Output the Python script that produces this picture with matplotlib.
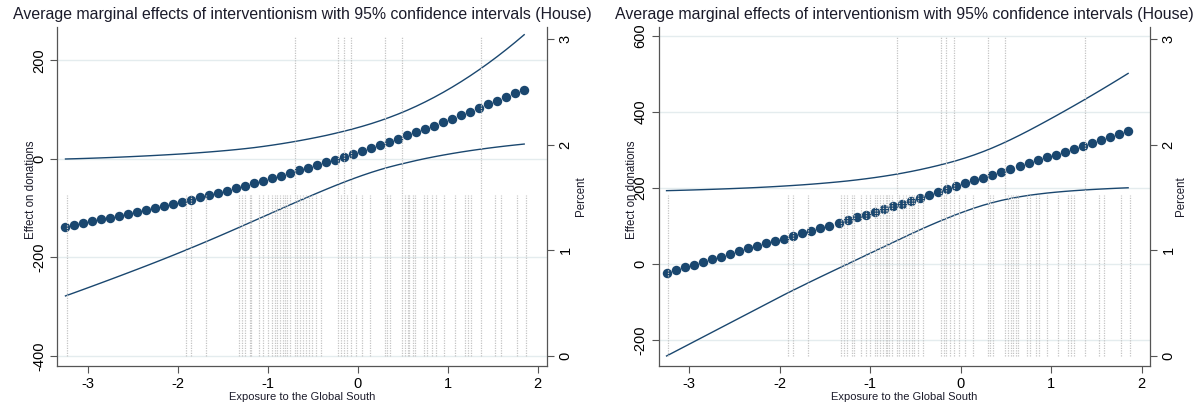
import matplotlib
matplotlib.use("Agg")
import matplotlib.pyplot as plt

plt.rcParams['font.family'] = ['Liberation Sans', 'DejaVu Sans']
plt.rcParams['axes.unicode_minus'] = False

# ---------------- data ----------------
x_at = [-3.25, -3.15, -3.05, -2.95, -2.85, -2.75, -2.65, -2.55, -2.45, -2.35,
        -2.25, -2.15, -2.05, -1.95, -1.85, -1.75, -1.65, -1.55, -1.45, -1.35,
        -1.25, -1.15, -1.05, -0.95, -0.85, -0.75, -0.65, -0.55, -0.45, -0.35,
        -0.25, -0.15, -0.05, 0.05, 0.15, 0.25, 0.35, 0.45, 0.55, 0.65,
        0.75, 0.85, 0.95, 1.05, 1.15, 1.25, 1.35, 1.45, 1.55, 1.65, 1.75, 1.85]

left_est = [-137.4, -133.8, -130.0, -126.4, -122.7, -118.8, -115.0, -111.2, -107.3, -103.4,
            -99.5, -95.2, -91.0, -86.8, -82.4, -78.0, -73.5, -68.9, -64.2, -59.4,
            -54.5, -49.5, -44.3, -39.0, -33.7, -28.3, -23.0, -17.6, -12.2, -6.7,
            -1.2, 4.4, 10.2, 16.2, 22.3, 28.5, 34.8, 41.3, 47.8, 54.5,
            61.2, 68.0, 75.0, 82.0, 89.1, 96.3, 103.5, 110.8, 118.2, 125.6, 133.0, 140.5]
left_hi = [0.0, 0.5, 1.05, 1.65, 2.3, 3.0, 3.75, 4.55, 5.4, 6.3,
           7.25, 8.25, 9.3, 10.4, 11.6, 12.9, 14.3, 15.8, 17.4, 19.15,
           21.05, 23.15, 25.55, 28.15, 30.95, 33.95, 37.15, 40.55, 44.15, 47.95,
           52.15, 56.55, 61.25, 66.35, 71.85, 77.85, 84.35, 91.35, 98.95, 107.15,
           115.95, 125.35, 135.35, 145.95, 157.15, 168.95, 181.35, 194.35, 207.95, 222.15,
           236.95, 252.35]
left_lo = [-278.0, -271.4, -264.75, -258.05, -251.3, -244.5, -237.65, -230.75, -223.8, -216.8,
           -209.7, -202.5, -195.2, -187.8, -180.3, -172.7, -165.0, -157.2, -149.3, -141.3,
           -133.25, -125.15, -117.05, -108.95, -100.85, -92.8, -84.8, -76.9, -69.1, -61.45,
           -54.0, -46.8, -39.9, -33.35, -27.2, -21.5, -16.3, -11.6, -7.35, -3.05,
           0.9, 4.55, 7.95, 11.15, 14.15, 16.95, 19.55, 22.0, 24.3, 26.45, 28.45, 30.35]

right_est = [-22.8, -16.0, -9.0, -2.0, 5.0, 12.3, 19.6, 27.0, 34.4, 41.8,
             48.0, 54.0, 60.5, 66.8, 73.7, 80.7, 87.7, 94.7, 101.2, 108.3,
             115.5, 122.5, 129.3, 136.3, 143.9, 151.5, 159.0, 166.8, 174.4, 181.6,
             189.0, 197.2, 204.8, 212.3, 219.8, 227.5, 235.3, 243.0, 250.9, 258.3,
             266.0, 273.2, 280.7, 288.0, 295.6, 303.0, 311.0, 318.6, 326.2, 334.0, 342.0, 350.5]
right_hi = [193.0, 193.6, 194.25, 194.95, 195.7, 196.5, 197.35, 198.25, 199.2, 200.2,
            201.3, 202.5, 203.8, 205.2, 206.7, 208.3, 210.05, 211.95, 214.0, 216.2,
            218.6, 221.3, 224.25, 227.45, 230.95, 234.75, 238.9, 243.4, 248.3, 253.6,
            259.25, 265.25, 271.85, 279.15, 287.15, 295.95, 305.55, 315.95, 327.05, 338.75,
            350.95, 363.55, 376.45, 389.55, 402.85, 416.35, 430.05, 443.95, 458.05, 472.35,
            486.85, 501.55]
right_lo = [-242.0, -229.6, -217.2, -204.8, -192.4, -180.0, -167.6, -155.2, -142.8, -130.4,
            -118.0, -105.6, -93.2, -80.8, -68.9, -57.2, -45.5, -34.0, -22.6, -11.3,
            0.0, 11.3, 22.6, 33.9, 45.2, 56.5, 67.8, 79.0, 90.0, 100.6,
            110.8, 120.6, 130.0, 138.9, 147.2, 154.8, 161.5, 167.4, 172.5, 176.9,
            180.6, 183.8, 186.6, 189.0, 191.1, 192.9, 194.5, 196.0, 197.3, 198.5, 199.6, 200.6]

# histogram of the moderator (percent of observations)
hist_x = [-3.234, -1.906, -1.851, -1.689, -1.319, -1.289, -1.255, -1.204, -1.183, -1.102,
          -1.051, -1.000, -0.949, -0.923, -0.894, -0.860, -0.830, -0.809, -0.787, -0.757,
          -0.702, -0.677, -0.643, -0.609, -0.574, -0.540, -0.511, -0.468, -0.413, -0.217,
          -0.187, -0.157, -0.123, -0.072, -0.021, 0.043, 0.132, 0.298, 0.328, 0.362,
          0.489, 0.523, 0.553, 0.574, 0.609, 0.638, 0.736, 0.766, 0.830, 0.864,
          0.957, 1.077, 1.191, 1.221, 1.255, 1.374, 1.523, 1.587, 1.766, 1.872]
hist_pct = [1.52] * len(hist_x)
for tall in (-0.702, -0.217, -0.157, -0.072, 0.298, 0.489, 1.374):
    hist_pct[hist_x.index(tall)] = 3.03

left_yticks = [-400, -200, 0, 200]
right_yticks = [-200, 0, 200, 400, 600]
pct_ticks = [0, 1, 2, 3]
x_ticks = [-3, -2, -1, 0, 1, 2]

title = "Average marginal effects of interventionism with 95% confidence intervals (House)"
xlabel = "Exposure to the Global South"
ylabel = "Effect on donations"
ylabel2 = "Percent"

# ---------------- style ----------------
W, H = 1199, 418
NAVY = '#1a476f'
GRID = '#e4ecee'
AXC = '#555555'
HISTC = '#c4c4c4'
TXT = '#1b1b2a'

fig = plt.figure(figsize=(W / 100, H / 100), dpi=100)


def ftext(px, py, s, **kw):
    fig.text(px / W, 1 - py / H, s, **kw)


def panel(left_px, right_px, xlim, ylim, yticks, est, lo, hi, ylab_px, pct_lab_px):
    top_px, bot_px = 27, 366
    rect = [left_px / W, 1 - bot_px / H, (right_px - left_px) / W, (bot_px - top_px) / H]
    ax = fig.add_axes(rect)
    ax.set_xlim(*xlim)
    ax.set_ylim(*ylim)
    for t in yticks:
        ax.axhline(t, color=GRID, lw=1.0, zorder=0)
    ax.plot(x_at, hi, color=NAVY, lw=1.0, zorder=2)
    ax.plot(x_at, lo, color=NAVY, lw=1.0, zorder=2)
    ax.plot(x_at, est, 'o', ms=6.8, color=NAVY, mec='none', zorder=3)
    ax.set_xticks(x_ticks)
    ax.set_yticks(yticks)
    ax.tick_params(axis='both', direction='out', length=5, width=0.8, color=AXC,
                   labelsize=10.5, labelcolor='black')
    ax.tick_params(axis='x', pad=3)
    ax.tick_params(axis='y', pad=3)
    for lab in ax.get_yticklabels():
        lab.set_rotation(90)
        lab.set_va('center')
    for s in ('top', 'right'):
        ax.spines[s].set_visible(False)
    for s in ('left', 'bottom'):
        ax.spines[s].set_color(AXC)
        ax.spines[s].set_linewidth(0.9)

    ax2 = ax.twinx()
    ax2.set_ylim(-0.095, 3.113)
    ax2.vlines(hist_x, 0, hist_pct, colors=HISTC, linestyles=(0, (1, 1)), lw=0.9, zorder=4)
    ax2.set_yticks(pct_ticks)
    ax2.tick_params(axis='y', direction='out', length=5, width=0.8, color=AXC,
                    labelsize=10.5, pad=3)
    for lab in ax2.get_yticklabels():
        lab.set_rotation(90)
        lab.set_va('center')
    for s in ('top', 'left', 'bottom'):
        ax2.spines[s].set_visible(False)
    ax2.spines['right'].set_color(AXC)
    ax2.spines['right'].set_linewidth(0.9)

    cx = (left_px + right_px) / 2
    ftext(cx, 15, title, ha='center', va='center', fontsize=11.4, color=TXT)
    ftext(cx, 397, xlabel, ha='center', va='center', fontsize=8, color=TXT)
    ftext(ylab_px, 190, ylabel, ha='center', va='center', rotation=90, fontsize=8.3, color=TXT)
    ftext(pct_lab_px, 196, ylabel2, ha='center', va='center', rotation=90, fontsize=8.3, color=TXT)
    return ax


panel(57.4, 547.3, (-3.34, 2.107), (-420.3, 268.0), left_yticks,
      left_est, left_lo, left_hi, 31, 581)
panel(658.6, 1150.3, (-3.338, 2.095), (-268.4, 623.7), right_yticks,
      right_est, right_lo, right_hi, 632, 1181)

fig.savefig("out.png", dpi=100, facecolor='white')
